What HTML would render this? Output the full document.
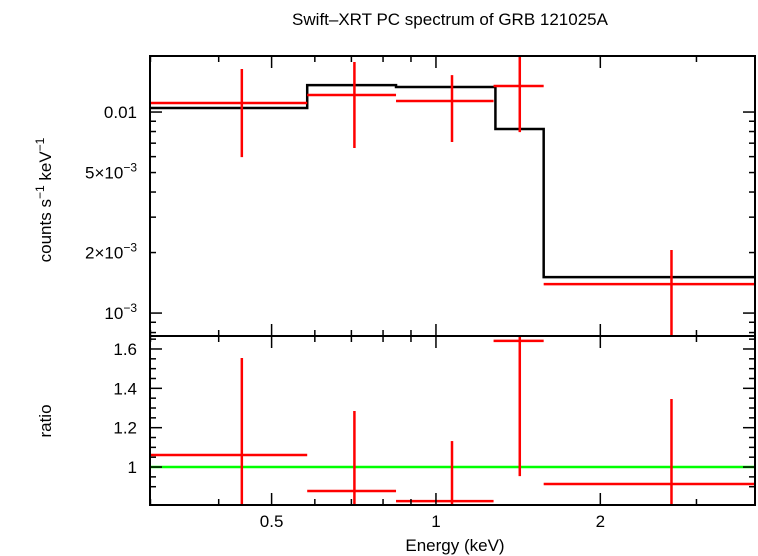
<!DOCTYPE html>
<html><head><meta charset="utf-8"><style>
html,body{margin:0;padding:0;background:#fff;}
svg{display:block;font-family:"Liberation Sans",sans-serif;}
</style></head><body>
<svg id="chart" width="758" height="556" viewBox="0 0 758 556" xmlns="http://www.w3.org/2000/svg">
<text x="450" y="25" font-size="17" text-anchor="middle">Swift–XRT PC spectrum of GRB 121025A</text>
<g id="top"></g><g id="bot"></g><g id="axes"></g>
</svg>
<script>
// ---- data ----
const binLo = [0.2994, 0.581, 0.845, 1.275, 1.575];
const binHi = [0.581, 0.845, 1.275, 1.575, 3.84];
const binCenter = [0.441, 0.709, 1.07, 1.424, 2.70];
const counts = [0.01109, 0.01215, 0.01134, 0.01347, 0.001394];
const countsHi = [0.01637, 0.01774, 0.01527, 0.0195, 0.00206];
const countsLo = [0.00597, 0.00662, 0.0071, 0.00795, 0.0007];
const modelLo = [0.2994, 0.581, 0.845, 1.285, 1.575];
const modelHi = [0.581, 0.845, 1.285, 1.575, 3.84];
const model = [0.01047, 0.01362, 0.01332, 0.00823, 0.00151];
const ratio = [1.061, 0.878, 0.827, 1.641, 0.914];
const ratioHi = [1.554, 1.285, 1.132, 1.70, 1.346];
const ratioLo = [0.75, 0.75, 0.75, 0.954, 0.75];
const xMajorTicks = [0.5, 1, 2];
const xMajorLabels = ["0.5", "1", "2"];
const topTickVals = [0.01, 0.005, 0.002, 0.001];
const ratioTicks = [1, 1.2, 1.4, 1.6];
const ratioLabels = ["1", "1.2", "1.4", "1.6"];

const L=150,R=755,T=56,M=336,B=505;
const xMin=0.2994,xMax=3.84, yTopMax=0.019, yTopMin=0.000769, rMax=1.666, rMin=0.807;
const X=v=>L+(Math.log10(v)-Math.log10(xMin))/(Math.log10(xMax)-Math.log10(xMin))*(R-L);
const YT=v=>T+(Math.log10(yTopMax)-Math.log10(v))/(Math.log10(yTopMax)-Math.log10(yTopMin))*(M-T);
const YR=v=>M+(rMax-v)/(rMax-rMin)*(B-M);
const NS="http://www.w3.org/2000/svg";
function mk(parent,tag,attrs,text){const e=document.createElementNS(NS,tag);for(const k in attrs)e.setAttribute(k,attrs[k]);if(text!==undefined)e.textContent=text;document.getElementById(parent).appendChild(e);return e;}
const clampT=y=>Math.max(T,Math.min(M,y)), clampB=y=>Math.max(M,Math.min(B,y));

let d="";
for(let i=0;i<model.length;i++){const y=YT(model[i]);d+=(i?"L":"M")+X(modelLo[i])+","+y+"L"+X(modelHi[i])+","+y;}
let mp=mk("top","path",{d:d,fill:"none",stroke:"#000","stroke-width":2.5});


for(let i=0;i<counts.length;i++){
  let h=mk("top","line",{x1:X(binLo[i]),x2:X(binHi[i]),y1:YT(counts[i]),y2:YT(counts[i]),stroke:"#f00","stroke-width":2.5});
  
  
  let v=mk("top","line",{x1:X(binCenter[i]),x2:X(binCenter[i]),y1:clampT(YT(countsHi[i])),y2:clampT(YT(countsLo[i])),stroke:"#f00","stroke-width":2.5});
  
  
}
let gl=mk("bot","line",{x1:L,x2:R,y1:YR(1),y2:YR(1),stroke:"#0f0","stroke-width":2.5});


for(let i=0;i<ratio.length;i++){
  let h=mk("bot","line",{x1:X(binLo[i]),x2:X(binHi[i]),y1:clampB(YR(ratio[i])),y2:clampB(YR(ratio[i])),stroke:"#f00","stroke-width":2.5});
  
  
  let v=mk("bot","line",{x1:X(binCenter[i]),x2:X(binCenter[i]),y1:clampB(YR(ratioHi[i])),y2:clampB(YR(ratioLo[i])),stroke:"#f00","stroke-width":2.5});
  
  
}
for(const [a,b,n] of [[T,M,'top-frame'],[M,B,'bottom-frame']]){
  let f=mk("axes","rect",{x:L,y:a,width:R-L,height:b-a,fill:"none",stroke:"#000","stroke-width":2});
  
  
}
const xMinor=[0.3,0.4,0.6,0.7,0.8,0.9,3];
function tick(x,len){
  for(const [y0,dir] of [[M,-1],[M,1],[B,-1],[T,1]]){
    mk("axes","line",{x1:x,x2:x,y1:y0,y2:y0+dir*len,stroke:"#000","stroke-width":1.5});
  }
}
xMajorTicks.forEach(v=>tick(X(v),12));
xMinor.forEach(v=>tick(X(v),6));
xMajorTicks.forEach((v,i)=>{let t=mk("axes","text",{x:X(v),y:527,"font-size":17,"text-anchor":"middle"},xMajorLabels[i]);
  
  });
for(let dec=-4;dec<=-1;dec++)for(let m=1;m<10;m++){const v=m*Math.pow(10,dec);if(v<yTopMin||v>yTopMax)continue;
  const len=m===1?12:6,y=YT(v);
  mk("axes","line",{x1:L,x2:L+len,y1:y,y2:y,stroke:"#000","stroke-width":1.5});
  mk("axes","line",{x1:R,x2:R-len,y1:y,y2:y,stroke:"#000","stroke-width":1.5});}
const topLabelsHTML=[["0.01",""],["5×10","−3"],["2×10","−3"],["10","−3"]];
topTickVals.forEach((v,i)=>{const t=mk("axes","text",{x:137,y:YT(v)+6,"font-size":17,"text-anchor":"end"});
  
  
  const a=document.createElementNS(NS,"tspan");a.textContent=topLabelsHTML[i][0];t.appendChild(a);
  if(topLabelsHTML[i][1]){const s=document.createElementNS(NS,"tspan");s.setAttribute("dy","-7");s.setAttribute("font-size","12");s.textContent=topLabelsHTML[i][1];t.appendChild(s);}
});
for(let v=0.9;v<=1.66;v+=0.05){const y=YR(v),maj=Math.abs(v*10-Math.round(v*10))<0.01&&Math.round(v*10)%2===0;const len=maj?12:6;
  mk("axes","line",{x1:L,x2:L+len,y1:y,y2:y,stroke:"#000","stroke-width":1.5});
  mk("axes","line",{x1:R,x2:R-len,y1:y,y2:y,stroke:"#000","stroke-width":1.5});}
ratioTicks.forEach((v,i)=>{let t=mk("axes","text",{x:137,y:YR(v)+6,"font-size":17,"text-anchor":"end"},ratioLabels[i]);
  
  });
</script>
<svg style="position:absolute;left:0;top:0" width="758" height="556">
<text x="455" y="551" font-size="17" text-anchor="middle" font-family="Liberation Sans,sans-serif">Energy (keV)</text>
<text transform="translate(51,200) rotate(-90)" font-size="17" text-anchor="middle" font-family="Liberation Sans,sans-serif">counts s<tspan dy="-7" font-size="12">−1</tspan><tspan dy="7"> keV</tspan><tspan dy="-7" font-size="12">−1</tspan></text>
<text transform="translate(51,421) rotate(-90)" font-size="17" text-anchor="middle" font-family="Liberation Sans,sans-serif">ratio</text>
</svg>
</body></html>
